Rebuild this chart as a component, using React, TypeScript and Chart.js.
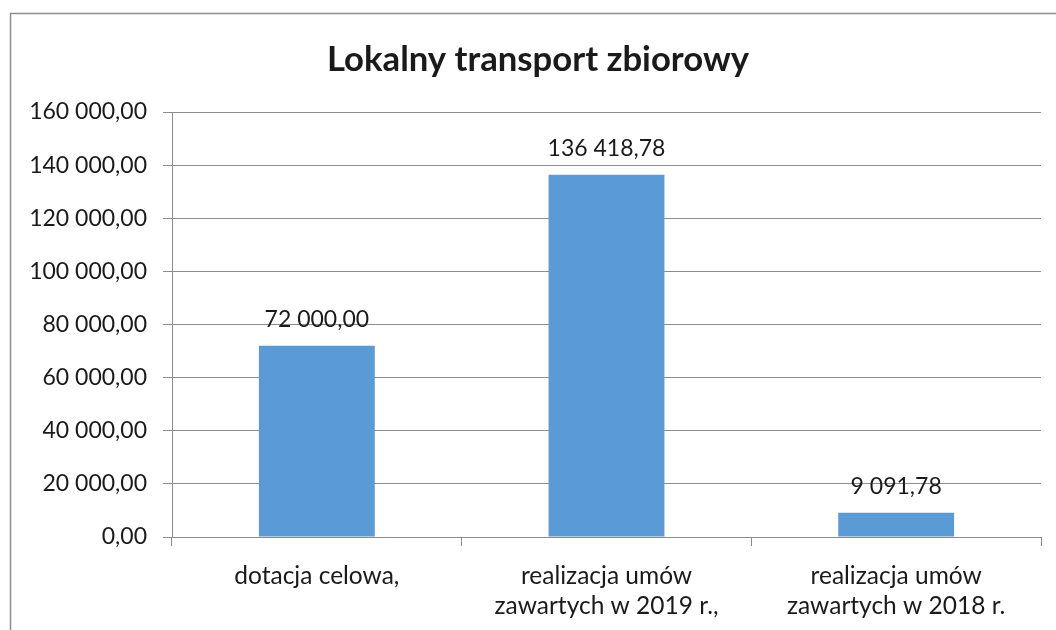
import React, { useEffect, useRef } from "react";
import { Chart, registerables } from "chart.js";

Chart.register(...registerables);

const title = "Lokalny transport zbiorowy";
const categories: string[][] = [
  ["dotacja celowa,"],
  ["realizacja umów", "zawartych w 2019 r.,"],
  ["realizacja umów", "zawartych w 2018 r."],
];
const values = [72000.0, 136418.78, 9091.78];
const yMin = 0;
const yMax = 160000;
const yStep = 20000;

const FONT = "Lato, 'Open Sans', sans-serif";
const TEXT = "#1a1a1a";
const GRID = "#8c8c8c";
const BAR = "#5B9BD5";

function fmt(v: number): string {
  const fixed = Math.abs(v).toFixed(2);
  const [intPart, dec] = fixed.split(".");
  const withSep = intPart.replace(/\B(?=(\d{3})+(?!\d))/g, " ");
  return (v < 0 ? "-" : "") + withSep + "," + dec;
}

const framePlugin = {
  id: "frame",
  beforeDraw(chart: any) {
    const ctx = chart.ctx;
    ctx.save();
    ctx.fillStyle = "#ffffff";
    ctx.fillRect(0, 0, chart.width, chart.height);
    ctx.strokeStyle = GRID;
    ctx.lineWidth = 1.5;
    ctx.strokeRect(10.5, 13.5, 1200, 800);
    ctx.restore();
  },
};

const titlePlugin = {
  id: "frameTitle",
  afterDraw(chart: any) {
    const ctx = chart.ctx;
    ctx.save();
    ctx.font = `bold 34.7px ${FONT}`;
    ctx.fillStyle = TEXT;
    ctx.textAlign = "center";
    ctx.textBaseline = "middle";
    ctx.fillText(title, 538, 60);
    ctx.restore();
  },
};

const valueLabels = {
  id: "valueLabels",
  afterDatasetsDraw(chart: any) {
    const ctx = chart.ctx;
    const meta = chart.getDatasetMeta(0);
    ctx.save();
    ctx.font = `23px ${FONT}`;
    ctx.fillStyle = TEXT;
    ctx.textAlign = "center";
    ctx.textBaseline = "middle";
    meta.data.forEach((bar: any, i: number) => {
      ctx.fillText(fmt(values[i]), bar.x, bar.y - 26);
    });
    ctx.restore();
  },
};

export default function App() {
  const ref = useRef<HTMLCanvasElement | null>(null);
  useEffect(() => {
    document.body.style.margin = "0";
    const canvas = ref.current!;
    const chart = new Chart(canvas, {
      type: "bar",
      data: {
        labels: categories,
        datasets: [
          {
            data: values,
            backgroundColor: BAR,
            borderWidth: 0,
            categoryPercentage: 1,
            barPercentage: 0.4,
          },
        ],
      },
      options: {
        animation: false,
        responsive: false,
        devicePixelRatio: 1,
        layout: { padding: { left: 0, right: 15, top: 112, bottom: 0 } },
        plugins: {
          legend: { display: false },
          tooltip: { enabled: false },
          title: { display: false },
        },
        scales: {
          x: {
            type: "category",
            offset: true,
            grid: {
              display: true,
              drawOnChartArea: false,
              drawTicks: true,
              tickLength: 9,
              color: GRID,
              offset: true,
            },
            border: { display: true, color: GRID, width: 1 },
            ticks: {
              color: TEXT,
              font: { family: FONT, size: 24.5, lineHeight: 1.22 },
              padding: 15,
              maxRotation: 0,
              autoSkip: false,
            },
            afterFit(scale: any) {
              scale.height = 93;
            },
          },
          y: {
            min: yMin,
            max: yMax,
            grid: {
              color: GRID,
              tickLength: 9,
              drawTicks: true,
            },
            border: { display: true, color: GRID, width: 1 },
            ticks: {
              stepSize: yStep,
              color: TEXT,
              font: { family: FONT, size: 23 },
              padding: 16,
              callback: (v: any) => fmt(Number(v)),
            },
            afterFit(scale: any) {
              scale.width = 172;
            },
          },
        },
      },
      plugins: [framePlugin, valueLabels, titlePlugin],
    });
    return () => chart.destroy();
  }, []);
  return (
    <div style={{ width: 1056, height: 630 }}>
      <canvas ref={ref} width={1056} height={630} style={{ display: "block" }} />
    </div>
  );
}
